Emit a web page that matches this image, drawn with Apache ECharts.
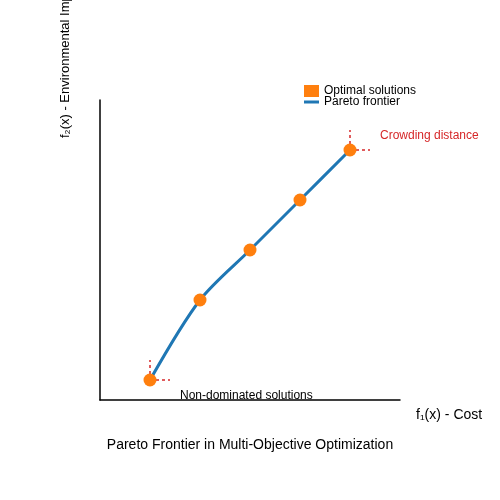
<!DOCTYPE html>
<html><head><meta charset="utf-8">
<script src="https://cdn.jsdelivr.net/npm/echarts@6/dist/echarts.min.js"></script>
<style>html,body{margin:0;padding:0;background:#fff}#c{width:500px;height:500px}</style>
</head><body><div id="c"></div>
<script>
const solutionsX = [1, 2, 3, 4, 5];
const solutionsY = [0.4, 2, 3, 4, 5];
const crowdFirst = [[[1, 0.4], [1.4, 0.4]], [[1, 0.4], [1, 0.8]]];
const crowdLast = [[[5, 5], [5.4, 5]], [[5, 5], [5, 5.4]]];
const pts = solutionsX.map((x, i) => [x, solutionsY[i]]);
const dashSeries = [...crowdFirst, ...crowdLast].map(seg => ({
  type: 'line', data: seg, symbol: 'none', silent: true, z: 1,
  lineStyle: { color: '#d62728', type: [3, 3], width: 1.5 }
}));
const chart = echarts.init(document.getElementById('c'));
chart.setOption({
  animation: false,
  grid: { left: 100, top: 100, width: 300, height: 300 },
  xAxis: { type: 'value', min: 0, max: 6, axisLabel: { show: false }, axisTick: { show: false }, splitLine: { show: false },
    axisLine: { lineStyle: { color: '#000', width: 1.5 } } },
  yAxis: { type: 'value', min: 0, max: 6, axisLabel: { show: false }, axisTick: { show: false }, splitLine: { show: false },
    axisLine: { show: true, lineStyle: { color: '#000', width: 1.5 } } },
  legend: {
    orient: 'vertical', left: 299, top: 80, itemGap: -1, itemWidth: 15, itemHeight: 12,
    textStyle: { fontSize: 12, color: '#000', fontFamily: 'Liberation Sans' },
    data: [
      { name: 'Optimal solutions', icon: 'rect', itemStyle: { color: '#ff7f0e' } },
      { name: 'Pareto frontier', icon: 'path://M0,5 L15,5 L15,8 L0,8 Z', itemStyle: { color: '#1f77b4' } }
    ]
  },
  graphic: [
    { type: 'text', x: 65, y: 138, rotation: Math.PI / 2, style: { text: 'f₂(x) - Environmental Impact', fontSize: 13, fill: '#000', font: '13px Liberation Sans', textAlign: 'left', textVerticalAlign: 'middle' } },
    { type: 'text', x: 416, y: 415, style: { text: 'f₁(x) - Cost', font: '14px Liberation Sans', fill: '#000', textVerticalAlign: 'middle' } },
    { type: 'text', x: 250, y: 445, style: { text: 'Pareto Frontier in Multi-Objective Optimization', font: '14px Liberation Sans', fill: '#000', textAlign: 'center', textVerticalAlign: 'middle' } },
    { type: 'text', x: 380, y: 136, style: { text: 'Crowding distance', font: '12px Liberation Sans', fill: '#d62728', textVerticalAlign: 'middle' } },
    { type: 'text', x: 180, y: 396, style: { text: 'Non-dominated solutions', font: '12px Liberation Sans', fill: '#000', textVerticalAlign: 'middle' } }
  ],
  series: [
    ...dashSeries,
    { name: 'Pareto frontier', type: 'line', data: pts, smooth: 0.3, symbol: 'none', z: 2,
      lineStyle: { color: '#1f77b4', width: 3 }, itemStyle: { color: '#1f77b4' } },
    { name: 'Optimal solutions', type: 'scatter', data: pts, symbolSize: 13, z: 3,
      itemStyle: { color: '#ff7f0e', opacity: 1 } }
  ]
});
</script></body></html>
